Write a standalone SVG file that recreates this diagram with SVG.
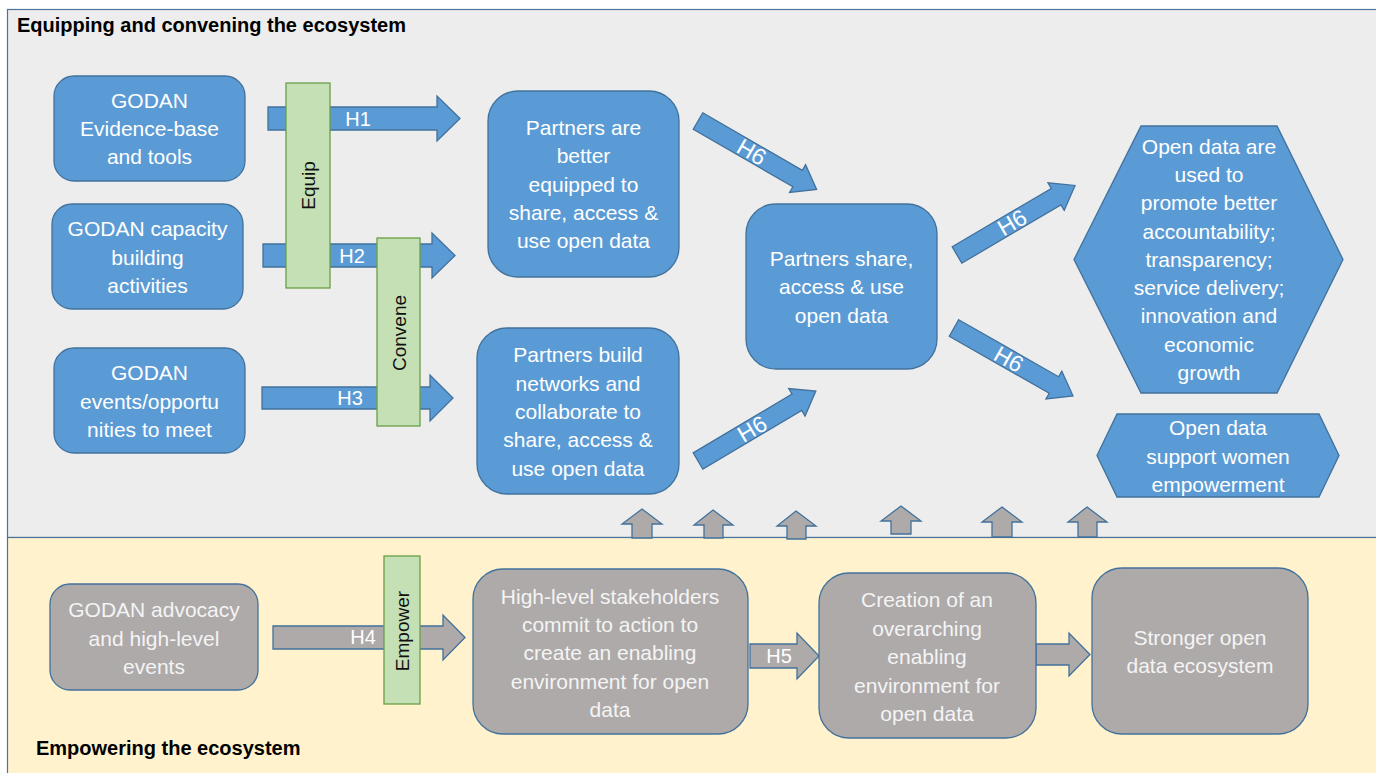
<svg xmlns="http://www.w3.org/2000/svg" width="1376" height="773" viewBox="0 0 1376 773">
<style>
text{font-family:"Liberation Sans",Arial,sans-serif;}
.blue{fill:#5b9bd5;stroke:#41719c;stroke-width:1.3;}
.gray{fill:#aeaaaa;stroke:#41719c;stroke-width:1.3;}
.bar{fill:#c5e0b4;stroke:#6a9f45;stroke-width:1.3;}
.wt{fill:#ffffff;font-size:21px;text-anchor:middle;}
.gt{fill:#f4f4f4;font-size:21px;text-anchor:middle;}
.bt{fill:#111;font-size:19px;text-anchor:middle;}
.hl{fill:#ffffff;font-size:20px;text-anchor:middle;}
.h6{fill:#ffffff;font-size:23px;text-anchor:middle;}
.title{fill:#000;font-size:20px;font-weight:bold;}
</style>
<defs>
<path id="diag" d="M0,-9.5 L115,-9.5 L115,-16 L137,0 L115,16 L115,9.5 L0,9.5 Z"/>
</defs>
<g id="panels">
<rect x="7.5" y="9.5" width="1380" height="528" fill="#ededed" stroke="#4a739e" stroke-width="1.2"/>
<rect x="7.5" y="537.5" width="1380" height="240" fill="#fff2cc" stroke="#4a739e" stroke-width="1.2"/>
<text class="title" x="17" y="32">Equipping and convening the ecosystem</text>
<text class="title" x="36" y="755">Empowering the ecosystem</text>
</g>
<g id="connectors">
<polygon class="blue" points="268,107 437,107 437,96 460,118.5 437,141 437,130 268,130"/>
<polygon class="blue" points="263,244 432,244 432,233 455,255.5 432,278 432,267 263,267"/>
<polygon class="blue" points="262,387 430,387 430,375 453,398 430,421 430,409 262,409"/>
<polygon class="gray" points="273,626 443,626 443,615 465,637.5 443,660 443,649 273,649"/>
<polygon class="gray" points="750,644 797,644 797,633 819,656 797,679 797,668 750,668"/>
<polygon class="gray" points="1036,644 1069,644 1069,633 1090,654.5 1069,676 1069,665 1036,665"/>
<text class="hl" x="358" y="126">H1</text>
<text class="hl" x="352" y="263">H2</text>
<text class="hl" x="350" y="405">H3</text>
<text class="hl" x="363" y="644">H4</text>
<text class="hl" x="779" y="663">H5</text>
<g transform="translate(698,121) rotate(30)"><use href="#diag" class="blue"/><text class="h6" x="62" y="8">H6</text></g>
<g transform="translate(698,461) rotate(-30.7)"><use href="#diag" class="blue"/><text class="h6" x="63" y="8">H6</text></g>
<g transform="translate(957,255) rotate(-30.5)"><use href="#diag" class="blue"/><text class="h6" x="64" y="8">H6</text></g>
<g transform="translate(954,328) rotate(29.7)"><use href="#diag" class="blue"/><text class="h6" x="63" y="8">H6</text></g>
<polygon class="gray" points="642,509 662,524 652,524 652,538 632,538 632,524 622,524"/>
<polygon class="gray" points="713,510 733,525 723,525 723,538 704,538 704,525 694,525"/>
<polygon class="gray" points="796,511 816,526 806,526 806,539 787,539 787,526 777,526"/>
<polygon class="gray" points="901,506 921,521 911,521 911,534 891,534 891,521 881,521"/>
<polygon class="gray" points="1002,507 1022,522 1012,522 1012,537 992,537 992,522 982,522"/>
<polygon class="gray" points="1087,507 1107,522 1097,522 1097,537 1078,537 1078,522 1068,522"/>
</g>
<g id="equip">
<rect class="bar" x="286" y="83" width="44" height="205"/>
<text class="bt" transform="translate(315,185.5) rotate(-90)">Equip</text>
</g>
<g id="convene">
<rect class="bar" x="377" y="238" width="43" height="188"/>
<text class="bt" transform="translate(405.5,333) rotate(-90)">Convene</text>
</g>
<g id="empower">
<rect class="bar" x="384" y="556" width="36" height="148"/>
<text class="bt" transform="translate(409,631) rotate(-90)">Empower</text>
</g>
<g id="evidence">
<rect class="blue" x="54" y="76" width="191" height="105" rx="20"/>
<text class="wt" x="149.5" y="108">GODAN</text>
<text class="wt" x="149.5" y="136">Evidence-base</text>
<text class="wt" x="149.5" y="164">and tools</text>
</g>
<g id="capacity">
<rect class="blue" x="52" y="204" width="191" height="105" rx="20"/>
<text class="wt" x="147.5" y="236">GODAN capacity</text>
<text class="wt" x="147.5" y="265">building</text>
<text class="wt" x="147.5" y="293">activities</text>
</g>
<g id="events">
<rect class="blue" x="54" y="348" width="191" height="105" rx="20"/>
<text class="wt" x="149.5" y="380">GODAN</text>
<text class="wt" x="149.5" y="409">events/opportu</text>
<text class="wt" x="149.5" y="437">nities to meet</text>
</g>
<g id="equipped">
<rect class="blue" x="488" y="91" width="191" height="186" rx="30"/>
<text class="wt" x="583.5" y="135">Partners are</text>
<text class="wt" x="583.5" y="163">better</text>
<text class="wt" x="583.5" y="192">equipped to</text>
<text class="wt" x="583.5" y="220">share, access &amp;</text>
<text class="wt" x="583.5" y="248">use open data</text>
</g>
<g id="networks">
<rect class="blue" x="477" y="328" width="202" height="166" rx="30"/>
<text class="wt" x="578" y="362">Partners build</text>
<text class="wt" x="578" y="391">networks and</text>
<text class="wt" x="578" y="419">collaborate to</text>
<text class="wt" x="578" y="447">share, access &amp;</text>
<text class="wt" x="578" y="476">use open data</text>
</g>
<g id="share">
<rect class="blue" x="746" y="204" width="191" height="165" rx="30"/>
<text class="wt" x="841.5" y="266">Partners share,</text>
<text class="wt" x="841.5" y="294">access &amp; use</text>
<text class="wt" x="841.5" y="323">open data</text>
</g>
<g id="accountability">
<polygon class="blue" points="1141,126 1277,126 1343,259.5 1277,393 1141,393 1074,259.5"/>
<text class="wt" x="1209" y="154">Open data are</text>
<text class="wt" x="1209" y="182">used to</text>
<text class="wt" x="1209" y="210">promote better</text>
<text class="wt" x="1209" y="239">accountability;</text>
<text class="wt" x="1209" y="267">transparency;</text>
<text class="wt" x="1209" y="295">service delivery;</text>
<text class="wt" x="1209" y="323">innovation and</text>
<text class="wt" x="1209" y="352">economic</text>
<text class="wt" x="1209" y="380">growth</text>
</g>
<g id="women">
<polygon class="blue" points="1117,414 1319,414 1339,455.5 1319,497 1117,497 1097,455.5"/>
<text class="wt" x="1218" y="435">Open data</text>
<text class="wt" x="1218" y="464">support women</text>
<text class="wt" x="1218" y="492">empowerment</text>
</g>
<g id="advocacy">
<rect class="gray" x="50" y="584" width="208" height="106" rx="20"/>
<text class="gt" x="154" y="617">GODAN advocacy</text>
<text class="gt" x="154" y="646">and high-level</text>
<text class="gt" x="154" y="674">events</text>
</g>
<g id="stakeholders">
<rect class="gray" x="473" y="569" width="275" height="165" rx="30"/>
<text class="gt" x="610" y="604">High-level stakeholders</text>
<text class="gt" x="610" y="632">commit to action to</text>
<text class="gt" x="610" y="660">create an enabling</text>
<text class="gt" x="610" y="689">environment for open</text>
<text class="gt" x="610" y="717">data</text>
</g>
<g id="creation">
<rect class="gray" x="819" y="573" width="217" height="165" rx="30"/>
<text class="gt" x="927" y="607">Creation of an</text>
<text class="gt" x="927" y="636">overarching</text>
<text class="gt" x="927" y="664">enabling</text>
<text class="gt" x="927" y="693">environment for</text>
<text class="gt" x="927" y="721">open data</text>
</g>
<g id="stronger">
<rect class="gray" x="1092" y="568" width="216" height="166" rx="30"/>
<text class="gt" x="1200" y="645">Stronger open</text>
<text class="gt" x="1200" y="673">data ecosystem</text>
</g>
</svg>
